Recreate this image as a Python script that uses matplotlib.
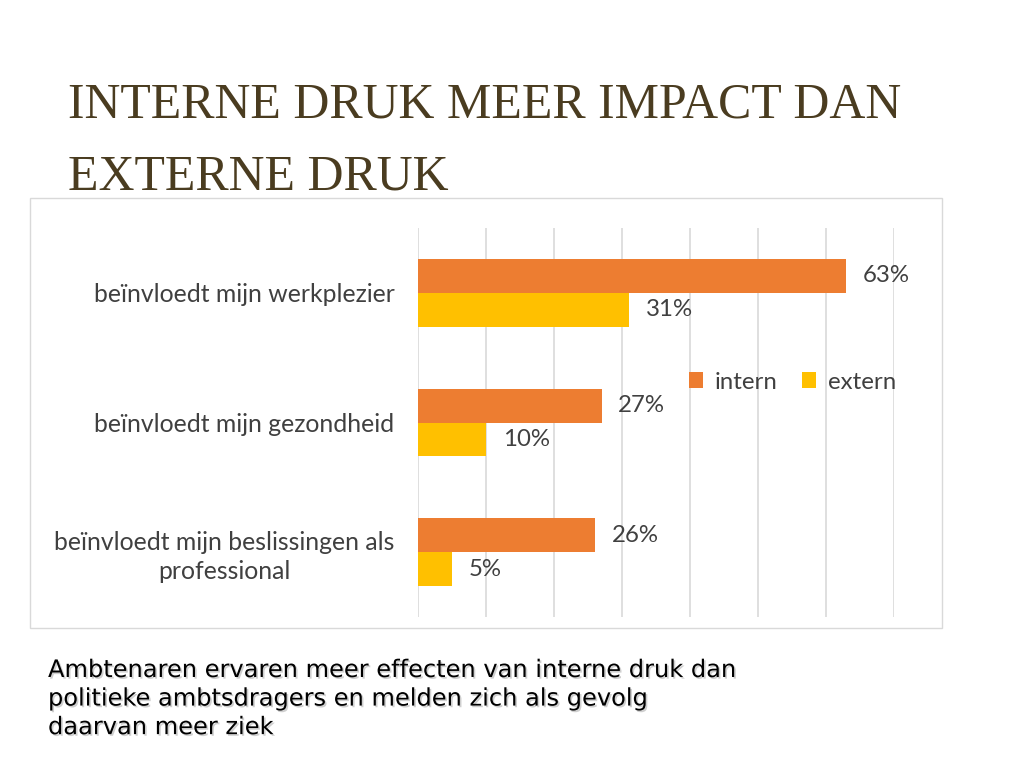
import numpy as np
import matplotlib.pyplot as plt
import matplotlib.patheffects as pe
from matplotlib.patches import Rectangle

# data
categories = ['beïnvloedt mijn werkplezier', 'beïnvloedt mijn gezondheid',
              'beïnvloedt mijn beslissingen als\nprofessional']
intern = [63, 27, 26]
extern = [31, 10, 5]
series_names = ['intern', 'extern']
colors = ['#ED7D31', '#FFC000']

title = 'INTERNE DRUK MEER IMPACT DAN\nEXTERNE DRUK'
caption = ('Ambtenaren ervaren meer effecten van interne druk dan\n'
           'politieke ambtsdragers en melden zich als gevolg\n'
           'daarvan meer ziek')

fig = plt.figure(figsize=(10.24, 7.68), dpi=100)
fig.patch.set_facecolor('white')

# chart panel background with light border
bg = fig.add_axes([0, 0, 1, 1], zorder=-1)
bg.axis('off')
bg.add_patch(Rectangle((30 / 1024, 1 - 628 / 768), 912 / 1024, 430 / 768,
                       transform=fig.transFigure, facecolor='white',
                       edgecolor='#d9d9d9', linewidth=1))

ax = fig.add_axes([418 / 1024, 1 - 617 / 768, 476 / 1024, 389 / 768], zorder=1)
ax.patch.set_alpha(0)
y = np.arange(len(categories))
h = 0.26
b1 = ax.barh(y - h / 2, intern, height=h, color=colors[0], label=series_names[0], zorder=3)
b2 = ax.barh(y + h / 2, extern, height=h, color=colors[1], label=series_names[1], zorder=3)

ax.set_xlim(0, 70)
ax.set_ylim(len(categories) - 0.5, -0.5)
ax.set_xticks(np.arange(0, 71, 10))
ax.xaxis.grid(True, color='#d9d9d9', linewidth=1.2)
ax.tick_params(axis='x', length=0, labelbottom=False)
ax.tick_params(axis='y', length=0, pad=17)
for s in ax.spines.values():
    s.set_visible(False)
ax.set_yticks(y)
ax.set_yticklabels(categories, fontsize=17.8, color='#404040', family='Lato',
                   ha='right', multialignment='center', linespacing=1.3)

for bars, vals in ((b1, intern), (b2, extern)):
    for rect, v in zip(bars, vals):
        ax.annotate(f'{v}%', (v, rect.get_y() + rect.get_height() / 2),
                    xytext=(12, 0), textcoords='offset points', va='center',
                    fontsize=17.3, color='#404040', family='Lato')

leg = ax.legend(loc='center', bbox_to_anchor=(0.787, 0.604), ncol=2, frameon=False,
                prop={'family': 'Lato', 'size': 17.3}, handlelength=0.6,
                handleheight=0.6, handletextpad=0.5, columnspacing=1.0)
for t in leg.get_texts():
    t.set_color('#404040')

fig.text(68 / 1024, 1 - 82 / 768, title, family='Liberation Serif', fontsize=35.9,
         color='#4a3c20', va='top', ha='left', linespacing=1.72)

fig.text(48 / 1024, 1 - 658 / 768, caption, family='DejaVu Sans', fontsize=17.35,
         color='black', va='top', ha='left', linespacing=1.24,
         path_effects=[pe.withSimplePatchShadow(offset=(1.2, -1.2),
                                                shadow_rgbFace='#b0b0b0', alpha=0.6)])

fig.savefig('out.png', dpi=100)
